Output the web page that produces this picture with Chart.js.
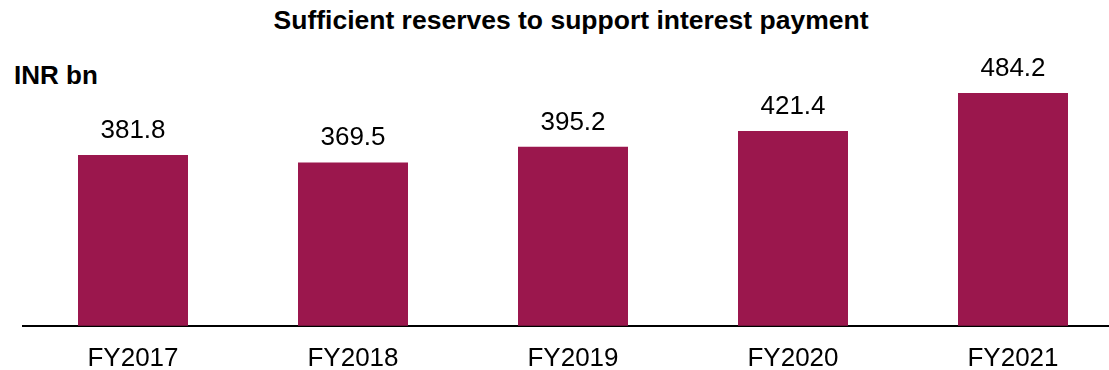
<!DOCTYPE html>
<html>
<head>
    <title>Sufficient reserves to support interest payment</title>
    <script src="https://cdn.jsdelivr.net/npm/chart.js"></script>
    <style>
        body {
            margin: 0;
            background: white;
            width: 1109px;
            height: 370px;
            overflow: hidden;
            position: relative;
            font-family: 'Liberation Sans', Arial, sans-serif;
        }

        .title {
            position: absolute;
            left: 0;
            top: 5px;
            width: 1142px;
            text-align: center;
            font-size: 26.5px;
            font-weight: 700;
            color: #000;
        }

        .unit {
            position: absolute;
            left: 14px;
            top: 60px;
            font-size: 26px;
            font-weight: 700;
            color: #000;
        }

        #reserveChart {
            position: absolute;
            left: 0;
            top: 0;
        }
    </style>
</head>
<body>
    <div class="title">Sufficient reserves to support interest payment</div>
    <div class="unit">INR bn</div>
    <canvas id="reserveChart" width="1130" height="391"></canvas>

    <script>
        const years = ['FY2017', 'FY2018', 'FY2019', 'FY2020', 'FY2021'];
        const reserves = [381.8, 369.5, 395.2, 421.4, 484.2];

        // value labels drawn above each bar
        const valueLabels = {
            id: 'valueLabels',
            afterDatasetsDraw(chart) {
                const ctx = chart.ctx;
                const meta = chart.getDatasetMeta(0);
                ctx.save();
                ctx.font = '26px "Liberation Sans", Arial, sans-serif';
                ctx.fillStyle = '#000';
                ctx.textAlign = 'center';
                ctx.textBaseline = 'alphabetic';
                meta.data.forEach((bar, i) => {
                    ctx.fillText(reserves[i].toFixed(1), bar.x, bar.y - 17);
                });
                ctx.restore();
            }
        };

        new Chart(document.getElementById('reserveChart'), {
            type: 'bar',
            data: {
                labels: years,
                datasets: [{
                    data: reserves,
                    backgroundColor: '#9B174D',
                    borderWidth: 0,
                    barPercentage: 0.5,
                    categoryPercentage: 1.0
                }]
            },
            options: {
                responsive: false,
                animation: false,
                layout: {
                    padding: { left: 23, right: 7, top: 53, bottom: 0 }
                },
                plugins: {
                    legend: { display: false },
                    tooltip: { enabled: false }
                },
                scales: {
                    y: {
                        display: false,
                        min: 100,
                        max: 550
                    },
                    x: {
                        grid: { display: false, drawTicks: false },
                        border: { display: true, color: '#000', width: 2 },
                        ticks: {
                            color: '#000',
                            padding: 17,
                            autoSkip: false,
                            maxRotation: 0,
                            font: { size: 26, family: "'Liberation Sans', Arial, sans-serif" }
                        }
                    }
                }
            },
            plugins: [valueLabels]
        });
    </script>
</body>
</html>
